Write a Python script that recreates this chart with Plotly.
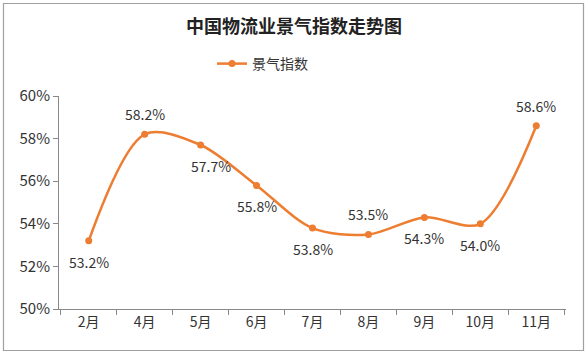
import plotly.graph_objects as go

categories = ["2月", "4月", "5月", "6月", "7月", "8月", "9月", "10月", "11月"]
values = [53.2, 58.2, 57.7, 55.8, 53.8, 53.5, 54.3, 54.0, 58.6]
label_side = ["below", "above", "below", "below", "below", "above", "below", "below", "above"]
y_ticks = [50, 52, 54, 56, 58, 60]

W, H = 588, 355
L, R, T, B = 59, 22, 96, 46
FONT = "Noto Sans CJK SC, Microsoft YaHei, sans-serif"
ORANGE = "#ED7D31"

fig = go.Figure()
fig.add_trace(go.Scatter(
    x=categories, y=values, mode="lines+markers", name="景气指数",
    line=dict(color=ORANGE, width=2.5, shape="spline", smoothing=0.9),
    marker=dict(color=ORANGE, size=7),
))

for c, v, s in zip(categories, values, label_side):
    fig.add_annotation(
        x=c, y=v, text=f"{v:.1f}%", showarrow=False,
        yshift=20 if s == "above" else -21,
        xshift=10 if c == "5月" else 0,
        font=dict(family=FONT, size=14, color="#333333"),
    )

pw = W - L - R
ph = H - T - B
def px(x):
    return (x - L) / pw
def py(y):
    return (H - B - y) / ph

fig.add_shape(type="rect", xref="paper", yref="paper",
              x0=px(3.5), x1=px(583.5), y0=py(350.5), y1=py(3.5),
              line=dict(color="#A0A0A0", width=1.2), fillcolor="rgba(0,0,0,0)", layer="below")

fig.update_layout(
    width=W, height=H,
    margin=dict(l=L, r=R, t=T, b=B, autoexpand=False),
    paper_bgcolor="white", plot_bgcolor="white",
    title=dict(text="<b>中国物流业景气指数走势图</b>", x=0.5, xref="container", xanchor="center",
               y=1 - 27 / H, yref="container", yanchor="middle",
               font=dict(family=FONT, size=18, color="#222222")),
    legend=dict(orientation="h", x=px(212), xref="paper", xanchor="left",
                y=py(64), yref="paper", yanchor="middle",
                font=dict(family=FONT, size=14, color="#333333"), itemwidth=30),
    showlegend=True,
    xaxis=dict(type="category", showgrid=False, showline=True, linecolor="#888888", linewidth=1,
               ticks="outside", tickson="boundaries", ticklen=5, tickcolor="#888888",
               tickfont=dict(family=FONT, size=14, color="#333333"), fixedrange=True),
    yaxis=dict(range=[50, 60], tickvals=y_ticks, ticktext=[f"{t}%" for t in y_ticks],
               showgrid=False, zeroline=False, showline=True, linecolor="#888888", linewidth=1,
               ticks="outside", ticklen=5, tickcolor="#888888",
               tickfont=dict(family=FONT, size=15, color="#333333"), fixedrange=True),
)

fig.write_html("out.html")
